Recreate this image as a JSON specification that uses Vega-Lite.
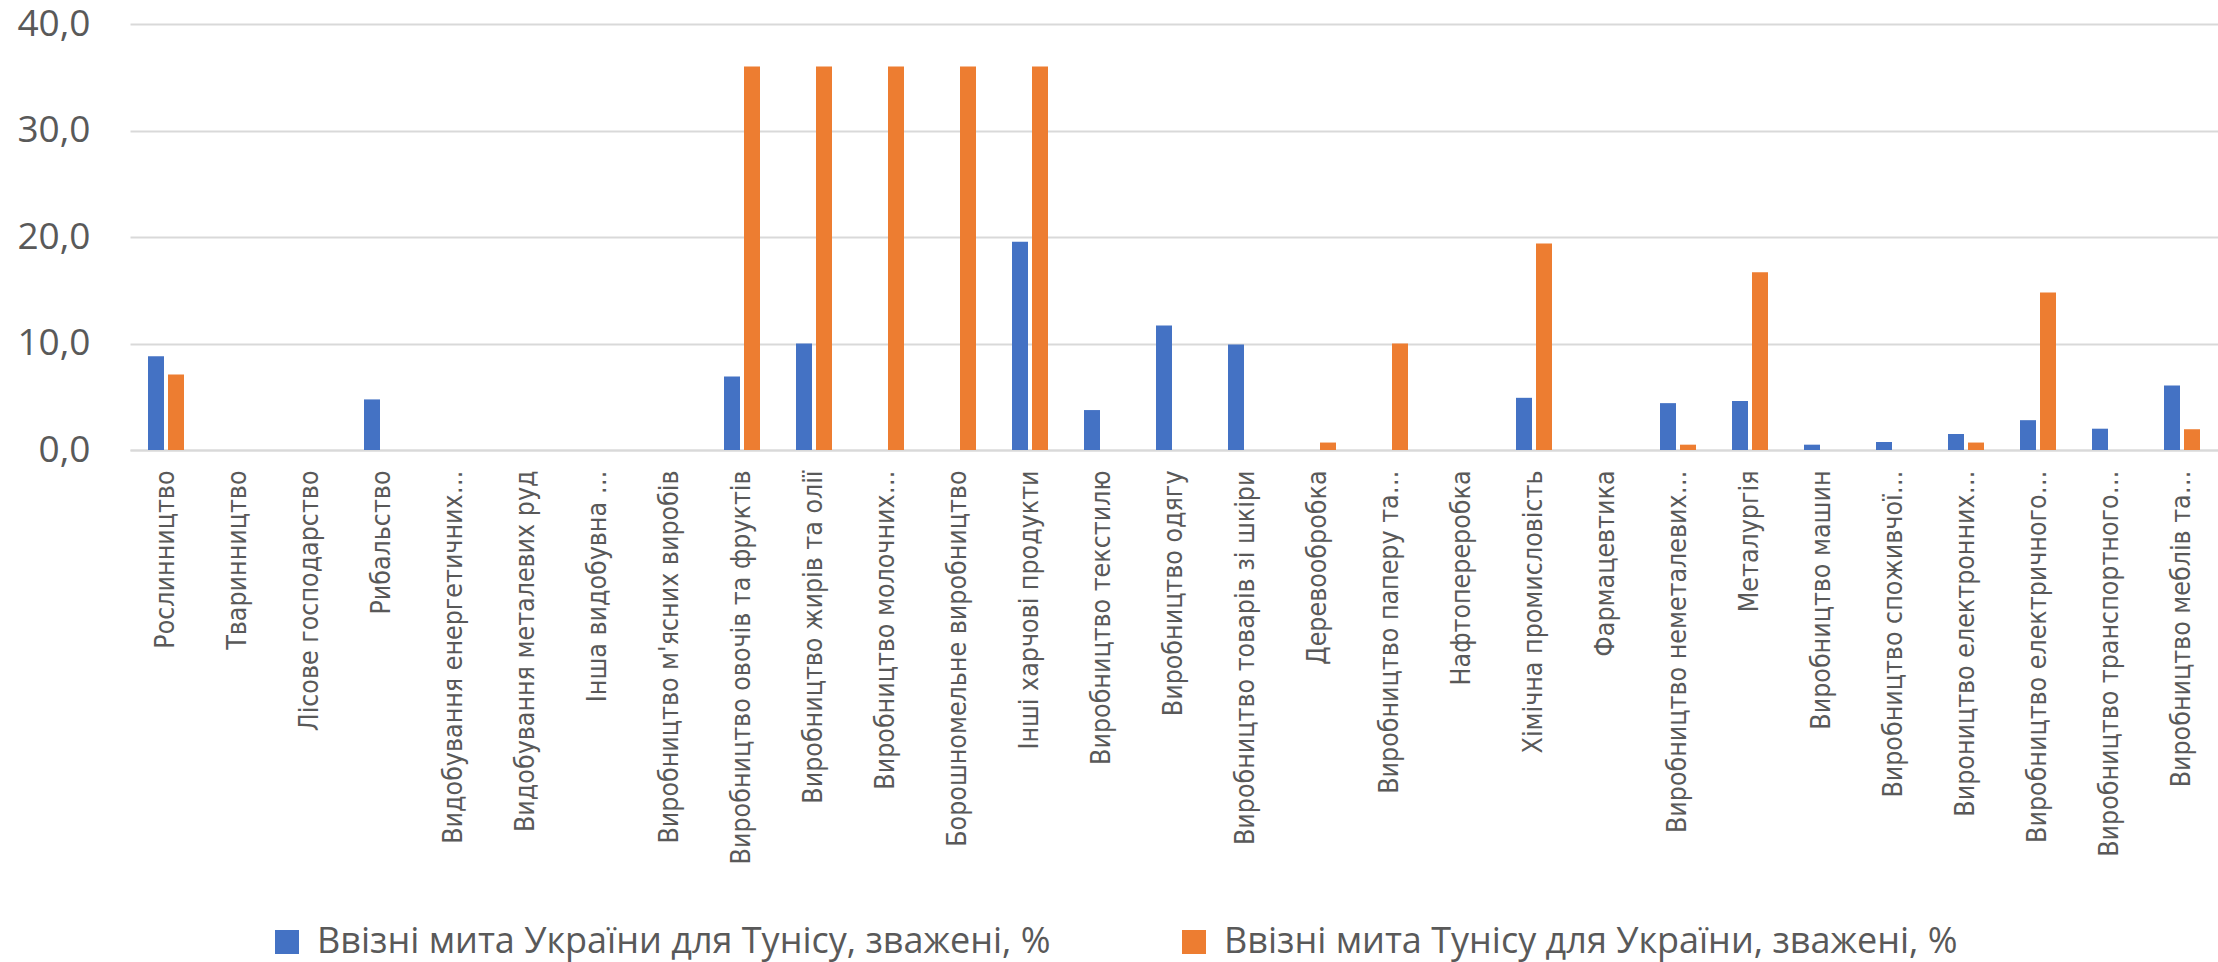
{
  "$schema": "https://vega.github.io/schema/vega-lite/v6.json",
  "width": 2088,
  "height": 426,
  "autosize": {"type": "none"},
  "padding": {"left": 130, "top": 24, "right": 0, "bottom": 512},
  "background": "white",
  "data": {
    "values": [
      {"cat": "Рослинництво", "series": "Ввізні мита України для Тунісу, зважені, %", "value": 8.8},
      {"cat": "Рослинництво", "series": "Ввізні мита Тунісу для України, зважені, %", "value": 7.1},
      {"cat": "Тваринництво", "series": "Ввізні мита України для Тунісу, зважені, %", "value": 0},
      {"cat": "Тваринництво", "series": "Ввізні мита Тунісу для України, зважені, %", "value": 0},
      {"cat": "Лісове господарство", "series": "Ввізні мита України для Тунісу, зважені, %", "value": 0},
      {"cat": "Лісове господарство", "series": "Ввізні мита Тунісу для України, зважені, %", "value": 0},
      {"cat": "Рибальство", "series": "Ввізні мита України для Тунісу, зважені, %", "value": 4.75},
      {"cat": "Рибальство", "series": "Ввізні мита Тунісу для України, зважені, %", "value": 0},
      {"cat": "Видобування енергетичних…", "series": "Ввізні мита України для Тунісу, зважені, %", "value": 0},
      {"cat": "Видобування енергетичних…", "series": "Ввізні мита Тунісу для України, зважені, %", "value": 0},
      {"cat": "Видобування металевих руд", "series": "Ввізні мита України для Тунісу, зважені, %", "value": 0},
      {"cat": "Видобування металевих руд", "series": "Ввізні мита Тунісу для України, зважені, %", "value": 0},
      {"cat": "Інша видобувна …", "series": "Ввізні мита України для Тунісу, зважені, %", "value": 0},
      {"cat": "Інша видобувна …", "series": "Ввізні мита Тунісу для України, зважені, %", "value": 0},
      {"cat": "Виробництво м'ясних виробів", "series": "Ввізні мита України для Тунісу, зважені, %", "value": 0},
      {"cat": "Виробництво м'ясних виробів", "series": "Ввізні мита Тунісу для України, зважені, %", "value": 0},
      {"cat": "Виробництво овочів та фруктів", "series": "Ввізні мита України для Тунісу, зважені, %", "value": 6.9},
      {"cat": "Виробництво овочів та фруктів", "series": "Ввізні мита Тунісу для України, зважені, %", "value": 36.0},
      {"cat": "Виробництво жирів та олії", "series": "Ввізні мита України для Тунісу, зважені, %", "value": 10.0},
      {"cat": "Виробництво жирів та олії", "series": "Ввізні мита Тунісу для України, зважені, %", "value": 36.0},
      {"cat": "Виробництво молочних…", "series": "Ввізні мита України для Тунісу, зважені, %", "value": 0},
      {"cat": "Виробництво молочних…", "series": "Ввізні мита Тунісу для України, зважені, %", "value": 36.0},
      {"cat": "Борошномельне виробництво", "series": "Ввізні мита України для Тунісу, зважені, %", "value": 0},
      {"cat": "Борошномельне виробництво", "series": "Ввізні мита Тунісу для України, зважені, %", "value": 36.0},
      {"cat": "Інші харчові продукти", "series": "Ввізні мита України для Тунісу, зважені, %", "value": 19.55},
      {"cat": "Інші харчові продукти", "series": "Ввізні мита Тунісу для України, зважені, %", "value": 36.0},
      {"cat": "Виробництво текстилю", "series": "Ввізні мита України для Тунісу, зважені, %", "value": 3.75},
      {"cat": "Виробництво текстилю", "series": "Ввізні мита Тунісу для України, зважені, %", "value": 0},
      {"cat": "Виробництво одягу", "series": "Ввізні мита України для Тунісу, зважені, %", "value": 11.7},
      {"cat": "Виробництво одягу", "series": "Ввізні мита Тунісу для України, зважені, %", "value": 0},
      {"cat": "Виробництво товарів зі шкіри", "series": "Ввізні мита України для Тунісу, зважені, %", "value": 9.9},
      {"cat": "Виробництво товарів зі шкіри", "series": "Ввізні мита Тунісу для України, зважені, %", "value": 0},
      {"cat": "Деревообробка", "series": "Ввізні мита України для Тунісу, зважені, %", "value": 0},
      {"cat": "Деревообробка", "series": "Ввізні мита Тунісу для України, зважені, %", "value": 0.7},
      {"cat": "Виробництво паперу та…", "series": "Ввізні мита України для Тунісу, зважені, %", "value": 0},
      {"cat": "Виробництво паперу та…", "series": "Ввізні мита Тунісу для України, зважені, %", "value": 10.0},
      {"cat": "Нафтопереробка", "series": "Ввізні мита України для Тунісу, зважені, %", "value": 0},
      {"cat": "Нафтопереробка", "series": "Ввізні мита Тунісу для України, зважені, %", "value": 0},
      {"cat": "Хімічна промисловість", "series": "Ввізні мита України для Тунісу, зважені, %", "value": 4.9},
      {"cat": "Хімічна промисловість", "series": "Ввізні мита Тунісу для України, зважені, %", "value": 19.4},
      {"cat": "Фармацевтика", "series": "Ввізні мита України для Тунісу, зважені, %", "value": 0},
      {"cat": "Фармацевтика", "series": "Ввізні мита Тунісу для України, зважені, %", "value": 0},
      {"cat": "Виробництво неметалевих…", "series": "Ввізні мита України для Тунісу, зважені, %", "value": 4.4},
      {"cat": "Виробництво неметалевих…", "series": "Ввізні мита Тунісу для України, зважені, %", "value": 0.5},
      {"cat": "Металургія", "series": "Ввізні мита України для Тунісу, зважені, %", "value": 4.6},
      {"cat": "Металургія", "series": "Ввізні мита Тунісу для України, зважені, %", "value": 16.7},
      {"cat": "Виробництво машин", "series": "Ввізні мита України для Тунісу, зважені, %", "value": 0.5},
      {"cat": "Виробництво машин", "series": "Ввізні мита Тунісу для України, зважені, %", "value": 0},
      {"cat": "Виробництво споживчої…", "series": "Ввізні мита України для Тунісу, зважені, %", "value": 0.75},
      {"cat": "Виробництво споживчої…", "series": "Ввізні мита Тунісу для України, зважені, %", "value": 0},
      {"cat": "Вироництво електронних…", "series": "Ввізні мита України для Тунісу, зважені, %", "value": 1.5},
      {"cat": "Вироництво електронних…", "series": "Ввізні мита Тунісу для України, зважені, %", "value": 0.7},
      {"cat": "Виробництво електричного…", "series": "Ввізні мита України для Тунісу, зважені, %", "value": 2.8},
      {"cat": "Виробництво електричного…", "series": "Ввізні мита Тунісу для України, зважені, %", "value": 14.8},
      {"cat": "Виробництво транспортного…", "series": "Ввізні мита України для Тунісу, зважені, %", "value": 2.0},
      {"cat": "Виробництво транспортного…", "series": "Ввізні мита Тунісу для України, зважені, %", "value": 0},
      {"cat": "Виробництво меблів та…", "series": "Ввізні мита України для Тунісу, зважені, %", "value": 6.05},
      {"cat": "Виробництво меблів та…", "series": "Ввізні мита Тунісу для України, зважені, %", "value": 1.95}
    ]
  },
  "mark": {"type": "bar", "orient": "vertical"},
  "encoding": {
    "x": {
      "field": "cat",
      "type": "nominal",
      "sort": null,
      "scale": {"paddingInner": 0.5, "paddingOuter": 0.25},
      "axis": {
        "title": null,
        "labelAngle": 270,
        "labelFont": "DejaVu Sans Condensed, DejaVu Sans",
        "labelFontSize": 26.5,
        "labelColor": "#595959",
        "labelPadding": 20,
        "labelLimit": 600,
        "ticks": false,
        "domainColor": "#d9d9d9",
        "domainWidth": 2,
        "labelOverlap": false
      }
    },
    "xOffset": {
      "field": "series",
      "type": "nominal",
      "sort": null,
      "scale": {"paddingInner": 0.2}
    },
    "y": {
      "field": "value",
      "type": "quantitative",
      "scale": {"domain": [0, 40], "nice": false},
      "axis": {
        "title": null,
        "values": [0, 10, 20, 30, 40],
        "labelExpr": "replace(format(datum.value, '.1f'), '.', ',')",
        "labelFont": "Open Sans",
        "labelFontSize": 37,
        "labelColor": "#595959",
        "labelPadding": 40,
        "ticks": false,
        "domain": false,
        "gridColor": "#d9d9d9",
        "gridWidth": 2
      }
    },
    "color": {
      "field": "series",
      "type": "nominal",
      "sort": null,
      "scale": {"range": ["#4472C4", "#ED7D31"]},
      "legend": {
        "title": null,
        "orient": "none",
        "legendX": 139,
        "legendY": 900,
        "direction": "horizontal",
        "symbolType": "square",
        "symbolSize": 576,
        "symbolStrokeWidth": 0,
        "labelFont": "Open Sans",
        "labelFontSize": 36,
        "labelColor": "#595959",
        "labelOffset": 12,
        "labelLimit": 1000,
        "columnPadding": 125
      }
    }
  },
  "config": {
    "view": {"stroke": null}
  }
}
